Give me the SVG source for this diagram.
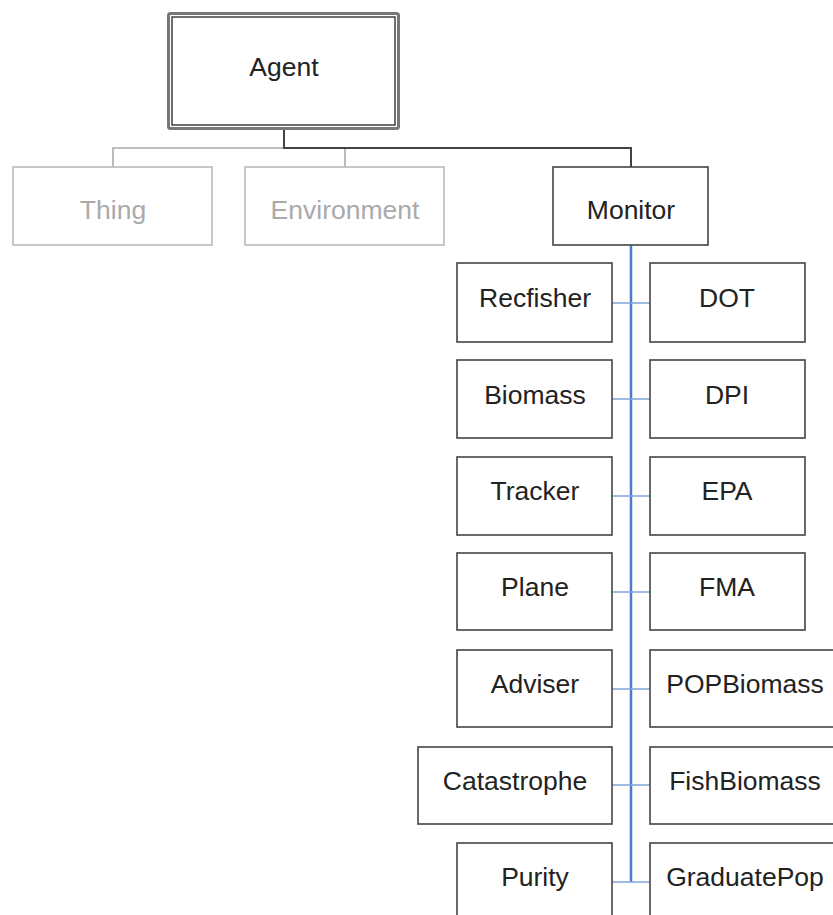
<svg xmlns="http://www.w3.org/2000/svg" width="833" height="915" viewBox="0 0 833 915">
<style>
.b{fill:#fff;stroke:#444;stroke-width:1.6}
.g{fill:#fff;stroke:#bbb;stroke-width:1.6}
text{font-family:"Liberation Sans",Arial,sans-serif;font-size:26.5px;fill:#222;text-anchor:middle}
.gt{fill:#aaa}
.bl{stroke:#4a7ccc;stroke-width:2.5;fill:none}
.bb{stroke:#7ea3dc;stroke-width:1.6;fill:none}
</style>
<rect width="833" height="915" fill="#fff"/>
<g id="connectors">
<polyline points="113,167 113,148 284,148" fill="none" stroke="#aaa" stroke-width="1.6"/>
<line x1="345" y1="148" x2="345" y2="167" stroke="#aaa" stroke-width="1.6"/>
<polyline points="284,130 284,148 631,148 631,167" fill="none" stroke="#444" stroke-width="2"/>
<line class="bl" x1="631" y1="245" x2="631" y2="882"/>
<line class="bb" x1="612" y1="303" x2="650" y2="303"/>
<line class="bb" x1="612" y1="399" x2="650" y2="399"/>
<line class="bb" x1="612" y1="496" x2="650" y2="496"/>
<line class="bb" x1="612" y1="592" x2="650" y2="592"/>
<line class="bb" x1="612" y1="689" x2="650" y2="689"/>
<line class="bb" x1="612" y1="785" x2="650" y2="785"/>
<line class="bb" x1="612" y1="882" x2="650" y2="882"/>
</g>
<g id="agent">
<rect x="168.5" y="13.5" width="230" height="115" rx="2" fill="#fff" stroke="#777" stroke-width="3"/>
<rect x="172" y="17" width="223" height="108" fill="none" stroke="#333" stroke-width="1.4"/>
<text x="284" y="76">Agent</text>
</g>
<g id="thing"><rect class="g" x="13" y="167" width="199" height="78"/><text class="gt" x="113" y="219">Thing</text></g>
<g id="environment"><rect class="g" x="245" y="167" width="199" height="78"/><text class="gt" x="345" y="219">Environment</text></g>
<g id="monitor"><rect class="b" x="553" y="167" width="155" height="78"/><text x="631" y="219">Monitor</text></g>
<g id="recfisher"><rect class="b" x="457" y="263" width="155" height="79"/><text x="535" y="307">Recfisher</text></g>
<g id="dot"><rect class="b" x="650" y="263" width="155" height="79"/><text x="727" y="307">DOT</text></g>
<g id="biomass"><rect class="b" x="457" y="360" width="155" height="78"/><text x="535" y="404">Biomass</text></g>
<g id="dpi"><rect class="b" x="650" y="360" width="155" height="78"/><text x="727" y="404">DPI</text></g>
<g id="tracker"><rect class="b" x="457" y="457" width="155" height="78"/><text x="535" y="500">Tracker</text></g>
<g id="epa"><rect class="b" x="650" y="457" width="155" height="78"/><text x="727" y="500">EPA</text></g>
<g id="plane"><rect class="b" x="457" y="553" width="155" height="77"/><text x="535" y="596">Plane</text></g>
<g id="fma"><rect class="b" x="650" y="553" width="155" height="77"/><text x="727" y="596">FMA</text></g>
<g id="adviser"><rect class="b" x="457" y="650" width="155" height="77"/><text x="535" y="693">Adviser</text></g>
<g id="popbiomass"><rect class="b" x="650" y="650" width="190" height="77"/><text x="745" y="693">POPBiomass</text></g>
<g id="catastrophe"><rect class="b" x="418" y="747" width="194" height="77"/><text x="515" y="790">Catastrophe</text></g>
<g id="fishbiomass"><rect class="b" x="650" y="747" width="190" height="77"/><text x="745" y="790">FishBiomass</text></g>
<g id="purity"><rect class="b" x="457" y="843" width="155" height="80"/><text x="535" y="886">Purity</text></g>
<g id="graduatepop"><rect class="b" x="650" y="843" width="190" height="80"/><text x="745" y="886">GraduatePop</text></g>
</svg>
